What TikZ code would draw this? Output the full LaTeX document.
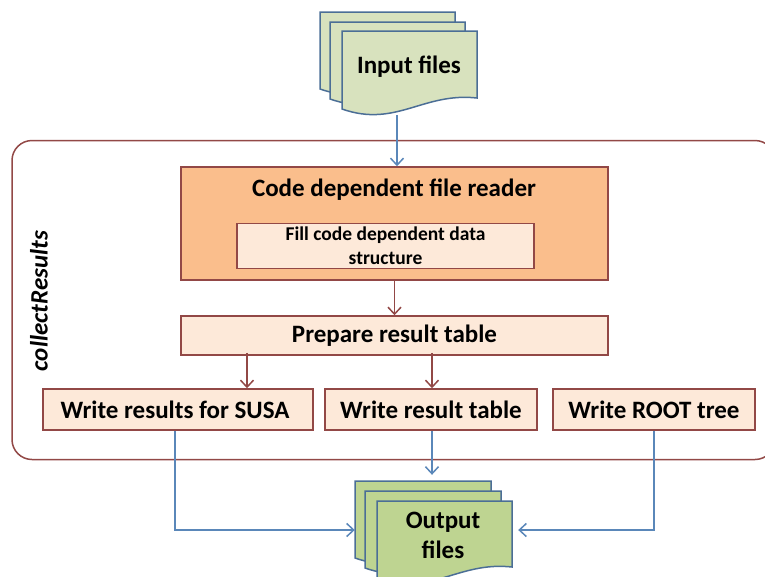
\documentclass[tikz,border=0pt]{standalone}
\usepackage{fontspec}
\setmainfont{Carlito}
\usetikzlibrary{arrows.meta}

\definecolor{framered}{RGB}{146,72,70}
\definecolor{arrowblue}{RGB}{90,135,185}
\definecolor{docedge}{RGB}{75,110,150}
\definecolor{inputfill}{RGB}{216,226,190}
\definecolor{outputfill}{RGB}{190,212,145}
\definecolor{readerfill}{RGB}{250,190,140}
\definecolor{stepfill}{RGB}{253,233,217}

\tikzset{
  stepbox/.style={draw=framered, line width=1.5pt, fill=stepfill, inner sep=0pt, align=center, font=\bfseries\fontsize{25}{30}\selectfont},
  redarrow/.style={-{Straight Barb[length=7pt,width=13pt]}, draw=framered, line width=1.5pt},
  bluearrow/.style={-{Straight Barb[length=7pt,width=13pt]}, draw=arrowblue, line width=1.5pt},
  docpage/.style={draw=docedge, line width=1.5pt},
  docarea/.style={inner sep=0pt},
  doclabel/.style={inner sep=0pt, align=center, font=\bfseries\fontsize{25}{30}\selectfont}
}

% one page of a stacked document: corner, width, height of the right side, fill
\newcommand{\drawpage}[5]{
  \draw[docpage, fill=#5] (#1,#2) -- ++(#3,0) -- ++(0,#4)
    .. controls +(-54,-6) and +(54,19) .. ++(-#3,11) -- cycle;
}

\begin{document}
\begin{tikzpicture}[x=1pt, y=-1pt]
  \useasboundingbox (0,0) rectangle (765,576);
  \clip (0,0) rectangle (765,576);

  % surrounding frame, its right side lies outside the picture
  \draw[draw=framered, line width=1.5pt, rounded corners=20pt] (12,140.5) rectangle (775,459.5);
  \node[rotate=90, inner sep=0pt, font=\bfseries\itshape\fontsize{25}{30}\selectfont] (collect) at (39,301) {collectResults};

  % input pages
  \drawpage{320}{12}{135}{66}{inputfill}
  \drawpage{330}{22}{135}{66}{inputfill}
  \drawpage{342}{31}{135}{67}{inputfill}
  \node[docarea, minimum width=135pt, minimum height=84pt] (inputdoc) at (409,73) {};
  \node[doclabel] (inputtext) at (409,66.5) {Input files};

  % output pages
  \drawpage{355}{481}{136}{66}{outputfill}
  \drawpage{365}{491}{136}{66}{outputfill}
  \drawpage{377}{501}{135}{66}{outputfill}
  \node[docarea, minimum width=136pt, minimum height=98pt] (outputback) at (423,530) {};
  \node[docarea, minimum width=135pt, minimum height=58pt] (outputfront) at (444.5,530) {};
  \node[doclabel] (outputtext) at (443,535) {Output\\files};

  % processing steps
  \node[stepbox, fill=readerfill, minimum width=427pt, minimum height=113pt] (reader) at (394.5,223.5) {};
  \node[inner sep=0pt, font=\bfseries\fontsize{25}{30}\selectfont] (readertext) at (394,189.5) {Code dependent file reader};
  \node[stepbox, minimum width=297pt, minimum height=45pt, font=\bfseries\fontsize{19.5}{24}\selectfont] (fill) at (385.5,246) {Fill code dependent data\\structure};
  \node[stepbox, minimum width=427pt, minimum height=39pt] (prepare) at (394.5,335.5) {Prepare result table};
  \node[stepbox, minimum width=270pt, minimum height=41pt] (susa) at (178,409.5) {Write results for SUSA\hspace*{6pt}};
  \node[stepbox, minimum width=212pt, minimum height=41pt] (table) at (431,409.5) {Write result table};
  \node[stepbox, minimum width=202pt, minimum height=41pt] (root) at (654,409.5) {Write ROOT tree};

  % connectors
  \draw[bluearrow] ([xshift=2.5pt]reader.north |- inputdoc.south) -- ([xshift=2.5pt]reader.north);
  \draw[redarrow] (reader) -- (prepare);
  \draw[redarrow] ([xshift=-147.5pt,yshift=3pt]prepare.south) -- ([xshift=69pt]susa.north);
  \draw[redarrow] ([xshift=37.5pt,yshift=3pt]prepare.south) -- ([xshift=1pt]table.north);
  \draw[bluearrow, shorten >=6pt] ([xshift=1pt]table.south) -- ([xshift=1pt]table.south |- outputback.north);
  \draw[bluearrow] ([xshift=-3pt]susa.south) |- (outputback.west);
  \draw[bluearrow, shorten >=6pt] (root.south) |- (outputfront.east);
\end{tikzpicture}
\end{document}
